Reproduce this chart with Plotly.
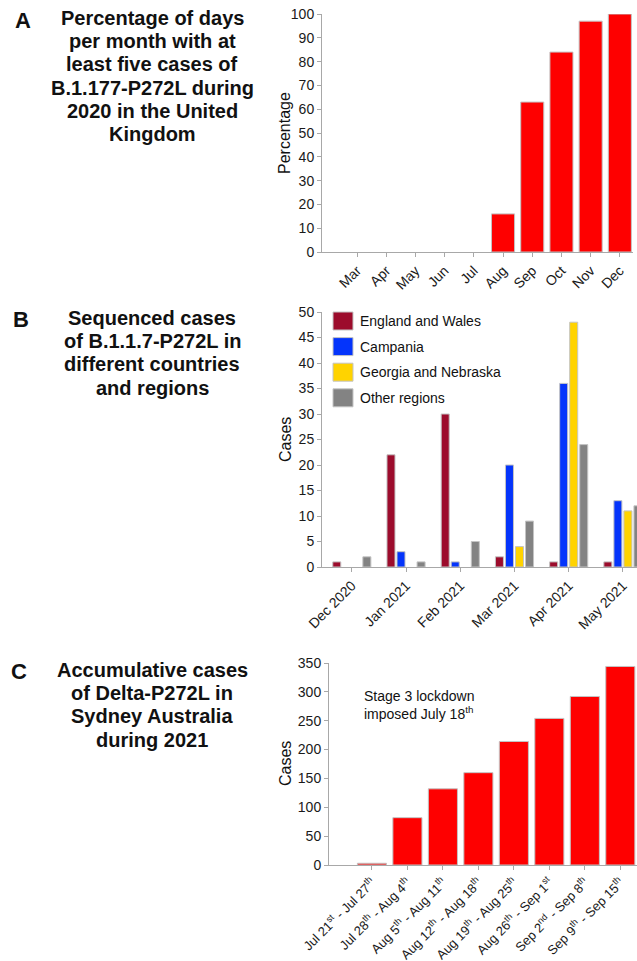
import plotly.graph_objects as go

W, H = 637, 961
FONT = "Liberation Sans"

# ---------- Data ----------
months_a = ["Mar", "Apr", "May", "Jun", "Jul", "Aug", "Sep", "Oct", "Nov", "Dec"]
pct_days = [0, 0, 0, 0, 0, 16, 63, 84, 97, 100]

months_b = ["Dec 2020", "Jan 2021", "Feb 2021", "Mar 2021", "Apr 2021", "May 2021"]
series_b = ["England and Wales", "Campania", "Georgia and Nebraska", "Other regions"]
england_wales = [1, 22, 30, 2, 1, 1]
campania = [0, 3, 1, 20, 36, 13]
georgia_nebraska = [0, 0, 0, 4, 48, 11]
other_regions = [2, 1, 5, 9, 24, 12]
colors_b = ["#9c0c2c", "#0434fb", "#ffd300", "#838383"]

periods_c = ["Jul 21 - Jul 27", "Jul 28 - Aug 4", "Aug 5 - Aug 11", "Aug 12 - Aug 18",
             "Aug 19 - Aug 25", "Aug 26 - Sep 1", "Sep 2 - Sep 8", "Sep 9 - Sep 15"]
period_labels_c = ["Jul 21<sup>st</sup> - Jul 27<sup>th</sup>", "Jul 28<sup>th</sup> - Aug 4<sup>th</sup>",
                   "Aug 5<sup>th</sup> - Aug 11<sup>th</sup>", "Aug 12<sup>th</sup> - Aug 18<sup>th</sup>",
                   "Aug 19<sup>th</sup> - Aug 25<sup>th</sup>", "Aug 26<sup>th</sup> - Sep 1<sup>st</sup>",
                   "Sep 2<sup>nd</sup> - Sep 8<sup>th</sup>", "Sep 9<sup>th</sup> - Sep 15<sup>th</sup>"]
cum_cases = [3, 82, 132, 160, 214, 254, 292, 344]

title_a = ["Percentage of days", "per month with at", "least five cases of",
           "B.1.177-P272L during", "2020 in the United", "Kingdom"]
title_b = ["Sequenced cases", "of B.1.1.7-P272L in", "different countries", "and regions"]
title_c = ["Accumulative cases", "of Delta-P272L in", "Sydney Australia", "during 2021"]

# ---------- helpers ----------
def px(x):
    return x / W

def py(y):
    return 1 - y / H

RED = "#fe0000"
OUTLINE = "#c4c4c4"
AXIS = "#a8a8a8"

def outline(vals):
    return dict(color=OUTLINE, width=[1 if v > 0 else 0 for v in vals])

fig = go.Figure()

# Panel A
fig.add_trace(go.Bar(x=months_a, y=pct_days, marker=dict(color=RED, line=outline(pct_days)),
                     width=0.79, xaxis="x", yaxis="y", showlegend=False))

# Panel B
vals_b = [england_wales, campania, georgia_nebraska, other_regions]
for name, vals, col in zip(series_b, vals_b, colors_b):
    fig.add_trace(go.Bar(x=months_b, y=vals, name=name,
                         marker=dict(color=col, line=outline(vals)),
                         xaxis="x2", yaxis="y2", showlegend=False))

# Panel C
fig.add_trace(go.Bar(x=periods_c, y=cum_cases, marker=dict(color=RED, line=outline(cum_cases)),
                     width=0.82, xaxis="x3", yaxis="y3", showlegend=False))

common_x = dict(showline=True, linecolor=AXIS, linewidth=1, ticks="outside", ticklen=4,
                tickcolor=AXIS, tickangle=-45, showgrid=False, zeroline=False, type="category",
                tickfont=dict(family=FONT, size=14, color="#1a1a1a"))
common_y = dict(showline=True, linecolor=AXIS, linewidth=1, ticks="outside", ticklen=4,
                tickcolor=AXIS, showgrid=False, zeroline=False,
                tickfont=dict(family=FONT, size=14, color="#1a1a1a"))

fig.update_layout(
    width=W, height=H, margin=dict(l=0, r=0, t=0, b=0, autoexpand=False),
    paper_bgcolor="white", plot_bgcolor="white",
    barmode="group", bargap=0.26, bargroupgap=0.2,
    font=dict(family=FONT, color="#111111"),
    xaxis=dict(common_x, domain=[px(322), px(633)], range=[-1.2, 9.45], anchor="y"),
    yaxis=dict(common_y, domain=[py(252), py(14)], range=[0, 100], dtick=10, anchor="x"),
    xaxis2=dict(common_x, domain=[px(322), 1], range=[-0.55, 5.26], anchor="y2"),
    yaxis2=dict(common_y, domain=[py(567), py(312)], range=[0, 50], dtick=5, anchor="x2"),
    xaxis3=dict(common_x, domain=[px(329), 1], range=[-1.21, 7.47], anchor="y3",
                tickmode="array", tickvals=periods_c, ticktext=period_labels_c,
                tickfont=dict(family=FONT, size=13, color="#1a1a1a")),
    yaxis3=dict(common_y, domain=[py(865), py(663)], range=[0, 350], dtick=50, anchor="x3"),
)

ann = []
shapes = []

# axis titles
for text, yc in [("Percentage", 133), ("Cases", 440), ("Cases", 764)]:
    ann.append(dict(text=text, x=px(285), y=py(yc), xref="paper", yref="paper", showarrow=False,
                    textangle=-90, font=dict(family=FONT, size=16, color="#111111"),
                    xanchor="center", yanchor="middle"))

# panel letters
for letter, xc, yc in [("A", 23, 20), ("B", 21, 320), ("C", 19, 671)]:
    ann.append(dict(text="<b>" + letter + "</b>", x=px(xc), y=py(yc), xref="paper", yref="paper",
                    showarrow=False, font=dict(family=FONT, size=22, color="#111111"),
                    xanchor="center", yanchor="middle"))

# left titles
def add_title(lines, y0, step=23.2, xc=152):
    for i, line in enumerate(lines):
        ann.append(dict(text="<b>" + line + "</b>", x=px(xc), y=py(y0 + i * step), xref="paper",
                        yref="paper", showarrow=False, font=dict(family=FONT, size=20, color="#111111"),
                        xanchor="center", yanchor="middle"))

add_title(title_a, 18)
add_title(title_b, 318)
add_title(title_c, 670)

# Panel B legend
for i, (name, col) in enumerate(zip(series_b, colors_b)):
    top = 312 + i * 25.6
    shapes.append(dict(type="rect", xref="paper", yref="paper", x0=px(333), x1=px(353),
                       y0=py(top), y1=py(top + 18), fillcolor=col, line=dict(color=OUTLINE, width=1)))
    ann.append(dict(text=name, x=px(358), y=py(top + 9), xref="paper", yref="paper", showarrow=False,
                    xanchor="left", yanchor="middle", font=dict(family=FONT, size=14, color="#111111")))

# Panel C note
ann.append(dict(text="Stage 3 lockdown<br>imposed July 18<sup>th</sup>", x=px(362), y=py(705),
                xref="paper", yref="paper", showarrow=False, xanchor="left", yanchor="middle", align="left",
                font=dict(family=FONT, size=14, color="#111111")))

fig.update_layout(annotations=ann, shapes=shapes)
fig.write_html("out.html", config={"displayModeBar": False},
               post_script="document.body.style.margin='0';")
